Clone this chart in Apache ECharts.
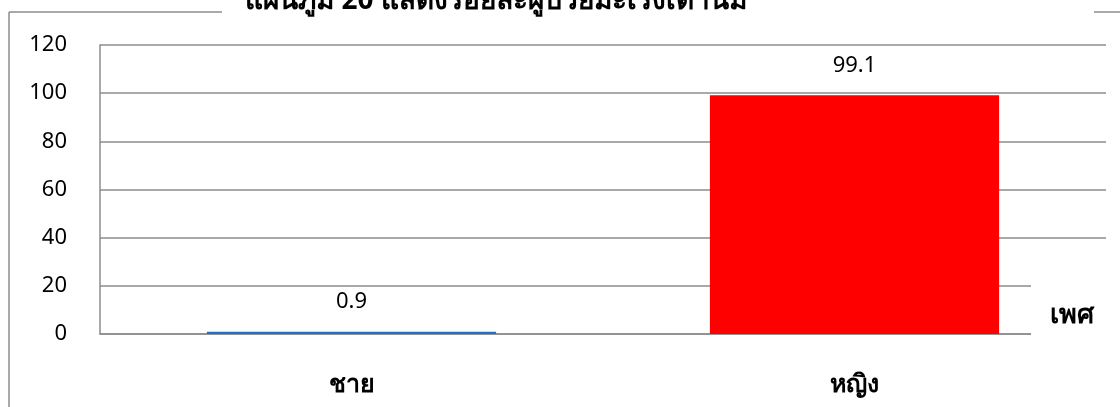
<!DOCTYPE html>
<html>
<head>
<meta charset="utf-8">
<script src="https://cdn.jsdelivr.net/npm/echarts@6/dist/echarts.min.js"></script>
<style>html,body{margin:0;padding:0;background:#fff;}#c{width:1120px;height:407px;}</style>
</head>
<body>
<div id="c"></div>
<script>
const titleText = 'แผนภูมิ 20 แสดงร้อยละผู้ป่วยมะเร็งเต้านม';
const categories = ['ชาย', 'หญิง'];
const values = [0.9, 99.1];
const barColors = ['#2272C3', '#FF0000'];
const axisName = 'เพศ';

const FONT = '"Noto Sans", "DejaVu Sans", sans-serif';
const chart = echarts.init(document.getElementById('c'), null, {renderer: 'canvas'});
chart.setOption({
  backgroundColor: '#fff',
  animation: false,
  title: {
    text: titleText,
    left: 491, top: -18, textAlign: 'center',
    textStyle: {fontFamily: FONT, fontSize: 28, fontWeight: 'bold', color: '#000'}
  },
  graphic: [
    {type: 'line', shape: {x1: 9, y1: 12, x2: 222, y2: 12}, style: {stroke: '#8c8c8c', lineWidth: 1.5}},
    {type: 'line', shape: {x1: 1094, y1: 12, x2: 1120, y2: 12}, style: {stroke: '#8c8c8c', lineWidth: 1.5}},
    {type: 'line', shape: {x1: 9, y1: 12, x2: 9, y2: 407}, style: {stroke: '#8c8c8c', lineWidth: 1.5}},
    {type: 'rect', z: 100, shape: {x: 1031, y: 278, width: 89, height: 64}, style: {fill: '#fff'}},
    {type: 'text', z: 101, x: 1050, y: 315,
     style: {text: axisName, fontFamily: FONT, fontSize: 27, fontWeight: 'bold', fill: '#000', textVerticalAlign: 'middle', verticalAlign: 'middle'}}
  ],
  grid: {left: 100, right: 14, top: 45, bottom: 73, containLabel: false},
  xAxis: {
    type: 'category',
    data: categories,
    axisLine: {show: true, lineStyle: {color: '#8c8c8c', width: 1.5}},
    axisTick: {show: false},
    axisLabel: {margin: 38, fontFamily: FONT, fontSize: 25, fontWeight: 'bold', color: '#000'}
  },
  yAxis: {
    type: 'value', min: 0, max: 120, interval: 20,
    axisLine: {show: true, lineStyle: {color: '#8c8c8c', width: 1.5}},
    axisTick: {show: false},
    splitLine: {show: true, lineStyle: {color: '#8c8c8c', width: 1.5}},
    axisLabel: {margin: 33, fontFamily: FONT, fontSize: 22, color: '#000'}
  },
  series: [{
    type: 'bar',
    barWidth: '57.5%',
    data: values.map((v, i) => ({value: v, itemStyle: {color: barColors[i]}})),
    label: {show: true, position: 'top', distance: 19, fontFamily: FONT, fontSize: 22, color: '#000'}
  }]
});
</script>
</body>
</html>
